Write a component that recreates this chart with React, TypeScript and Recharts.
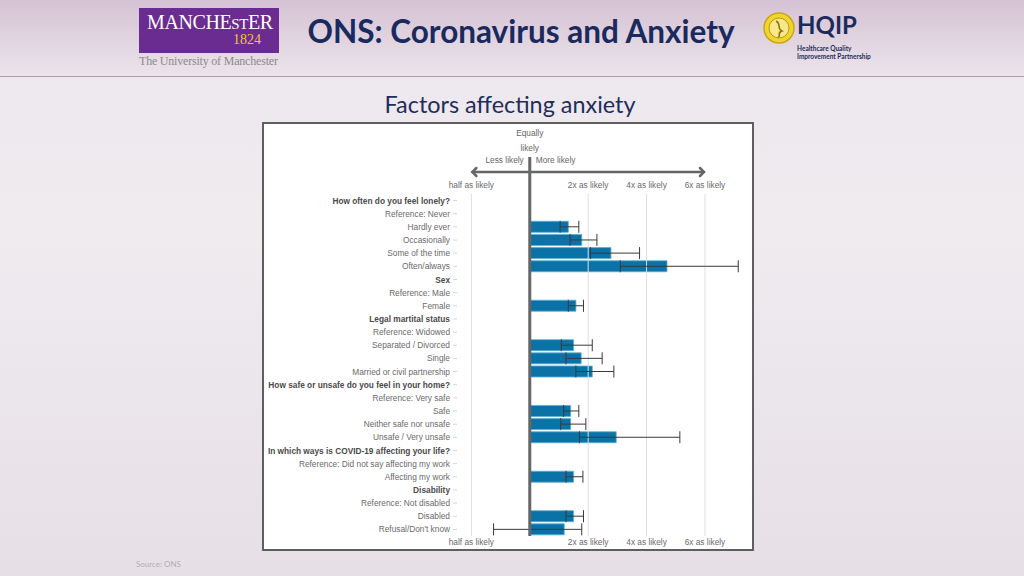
import React from 'react';
import {
  BarChart,
  Bar,
  XAxis,
  YAxis,
  ErrorBar,
  ReferenceLine,
  ReferenceArea,
} from 'recharts';

// rows of the chart, top to bottom
const labels = [
  'How often do you feel lonely?',
  'Reference: Never',
  'Hardly ever',
  'Occasionally',
  'Some of the time',
  'Often/always',
  'Sex',
  'Reference: Male',
  'Female',
  'Legal martital status',
  'Reference: Widowed',
  'Separated / Divorced',
  'Single',
  'Married or civil partnership',
  'How safe or unsafe do you feel in your home?',
  'Reference: Very safe',
  'Safe',
  'Neither safe nor unsafe',
  'Unsafe / Very unsafe',
  'In which ways is COVID-19 affecting your life?',
  'Reference: Did not say affecting my work',
  'Affecting my work',
  'Disability',
  'Reference: Not disabled',
  'Disabled',
  "Refusal/Don't know",
];

const headings = [
  'How often do you feel lonely?',
  'Sex',
  'Legal martital status',
  'How safe or unsafe do you feel in your home?',
  'In which ways is COVID-19 affecting your life?',
  'Disability',
];

// position on the likelihood axis: 0 = equally likely, -1 = half, 1 = 2x, 2 = 4x, 3 = 6x
const estimate = [
  null, null, 0.66, 0.89, 1.39, 2.35,
  null, null, 0.79,
  null, null, 0.75, 0.88, 1.07,
  null, null, 0.7, 0.7, 1.48,
  null, null, 0.75,
  null, null, 0.75, 0.59,
];
const lower = [
  null, null, 0.52, 0.69, 1.04, 1.55,
  null, null, 0.66,
  null, null, 0.54, 0.62, 0.79,
  null, null, 0.58, 0.53, 0.85,
  null, null, 0.62,
  null, null, 0.62, -0.62,
];
const upper = [
  null, null, 0.84, 1.15, 1.88, 3.57,
  null, null, 0.92,
  null, null, 1.07, 1.24, 1.44,
  null, null, 0.84, 0.96, 2.57,
  null, null, 0.91,
  null, null, 0.92, 0.89,
];

const xTicks = [-1, 0, 1, 2, 3];
const xTickLabels = ['half as likely', '', '2x as likely', '4x as likely', '6x as likely'];

const data = labels.map((label, i) => {
  const v = estimate[i];
  const lo = lower[i];
  const hi = upper[i];
  return {
    label,
    value: v,
    err: v == null || lo == null || hi == null ? null : [v - lo, hi - v],
  };
});

const chartFont = '"Liberation Sans", Arial, sans-serif';
const slideFont = 'Lato, "Open Sans", sans-serif';
const fs = 8.3;

const fmtX = (v: number) => xTickLabels[xTicks.indexOf(v)] ?? '';

const YTick = (props: any) => {
  const { x, y, payload } = props;
  const bold = headings.includes(payload.value);
  return (
    <text
      x={x}
      y={y}
      dy={3}
      textAnchor="end"
      fontSize={fs}
      fontFamily={chartFont}
      fontWeight={bold ? 700 : 400}
      fill={bold ? '#4a4a4a' : '#6a6a6a'}
    >
      {payload.value}
    </text>
  );
};

const EqualLabel = (props: any) => {
  const { x, y } = props.viewBox;
  return (
    <g fontFamily={chartFont} fontSize={fs} fill="#666">
      <line x1={x} x2={x} y1={y - 37} y2={y} stroke="#666" strokeWidth={3} />
      <text x={x} y={y - 58} textAnchor="middle">Equally</text>
      <text x={x} y={y - 43} textAnchor="middle">likely</text>
      <text x={x - 6} y={y - 31} textAnchor="end">Less likely</text>
      <text x={x + 6} y={y - 31} textAnchor="start">More likely</text>
    </g>
  );
};

const ArrowLabel = (props: any) => {
  const { x, y, width } = props.viewBox;
  const ay = y - 22;
  return (
    <g stroke="#666" strokeWidth={2.5} fill="none" strokeLinecap="round">
      <line x1={x + 1} x2={x + width - 1} y1={ay} y2={ay} />
      <polyline points={`${x + 5},${ay - 4} ${x + 1},${ay} ${x + 5},${ay + 4}`} />
      <polyline points={`${x + width - 5},${ay - 4} ${x + width - 1},${ay} ${x + width - 5},${ay + 4}`} />
    </g>
  );
};

const ManchesterLogo = () => (
  <div style={{ position: 'absolute', left: 139, top: 8 }}>
    <div
      style={{
        width: 140,
        height: 45,
        background: '#6b2c91',
        fontFamily: '"Liberation Serif", serif',
        color: '#fff',
        position: 'relative',
      }}
    >
      <div style={{ position: 'absolute', left: 8, top: 3, fontSize: 20, letterSpacing: -0.4, whiteSpace: 'nowrap' }}>
        MANCH<span>E</span>
        <span style={{ fontSize: 15 }}>ST</span>ER
      </div>
      <div style={{ position: 'absolute', left: 94, top: 24, fontSize: 14, color: '#f3c33c' }}>1824</div>
    </div>
    <div
      style={{
        fontFamily: '"Liberation Serif", serif',
        fontSize: 12,
        color: '#8e8a8e',
        marginTop: 1,
        letterSpacing: -0.2,
        whiteSpace: 'nowrap',
      }}
    >
      The University of Manchester
    </div>
  </div>
);

const HqipLogo = () => (
  <div style={{ position: 'absolute', left: 763, top: 12 }}>
    <svg width={34} height={34} style={{ position: 'absolute', left: 0, top: 0 }}>
      <circle cx={16} cy={16} r={15} fill="#f1d430" stroke="#c9a818" strokeWidth={1.5} />
      <circle cx={16} cy={16} r={10} fill="#f7e88a" stroke="#b89a14" strokeWidth={1} />
      <path d="M13 9 C 19 12, 13 16, 19 19 C 13 21, 19 24, 15 25" stroke="#8a7310" strokeWidth={1.5} fill="none" />
    </svg>
    <div
      style={{
        position: 'absolute',
        left: 34,
        top: -2,
        fontFamily: slideFont,
        fontSize: 24,
        fontWeight: 700,
        color: '#1c2a5c',
      }}
    >
      HQIP
    </div>
    <div
      style={{
        position: 'absolute',
        left: 34,
        top: 33,
        fontFamily: slideFont,
        fontSize: 6.5,
        fontWeight: 700,
        color: '#1c2a5c',
        lineHeight: '8px',
        whiteSpace: 'nowrap',
      }}
    >
      Healthcare Quality
      <br />
      Improvement Partnership
    </div>
  </div>
);

export default function App() {
  return (
    <div
      style={{
        position: 'absolute',
        left: 0,
        top: 0,
        width: 1024,
        height: 576,
        overflow: 'hidden',
        background: 'linear-gradient(180deg, #ece7ec 0%, #efebef 40%, #e6e0e6 100%)',
      }}
    >
      <div
        style={{
          position: 'absolute',
          left: 0,
          top: 0,
          width: 1024,
          height: 76,
          background: 'linear-gradient(180deg, #d6c2d5 0%, #e0d3df 50%, #ebe4eb 100%)',
          borderBottom: '1px solid #a9a1a9',
        }}
      />
      <ManchesterLogo />
      <div
        style={{
          position: 'absolute',
          left: 271,
          width: 500,
          top: 12,
          textAlign: 'center',
          fontFamily: slideFont,
          fontSize: 31.5,
          fontWeight: 700,
          color: '#1b2a5e',
          whiteSpace: 'nowrap',
        }}
      >
        ONS: Coronavirus and Anxiety
      </div>
      <HqipLogo />
      <div
        style={{
          position: 'absolute',
          left: 310,
          width: 400,
          top: 90,
          textAlign: 'center',
          fontFamily: slideFont,
          fontSize: 23.4,
          color: '#1f2d5c',
        }}
      >
        Factors affecting anxiety
      </div>
      <div
        style={{
          position: 'absolute',
          left: 262,
          top: 122,
          width: 492,
          height: 429,
          boxSizing: 'border-box',
          background: '#fff',
          border: '2px solid #5f5f5f',
        }}
      />
      <div style={{ position: 'absolute', left: 262, top: 122 }}>
        <BarChart
          width={492}
          height={428}
          data={data}
          layout="vertical"
          margin={{ top: 52, right: 14, bottom: 0, left: 0 }}
          barSize={11}
        >
          <XAxis
            type="number"
            domain={[-1.246, 3.6]}
            ticks={xTicks}
            tickFormatter={fmtX}
            orientation="bottom"
            axisLine={false}
            tickLine={false}
            tickSize={0}
            tickMargin={3}
            height={14}
            tick={{ fontSize: fs, fill: '#6a6a6a', fontFamily: chartFont }}
            allowDataOverflow
          />
          <XAxis
            xAxisId="top"
            type="number"
            domain={[-1.246, 3.6]}
            ticks={xTicks}
            tickFormatter={fmtX}
            orientation="top"
            axisLine={false}
            tickLine={false}
            tickSize={0}
            tickMargin={6}
            height={20}
            tick={{ fontSize: fs, fill: '#6a6a6a', fontFamily: chartFont }}
            allowDataOverflow
          />
          <YAxis
            type="category"
            dataKey="label"
            width={195}
            interval={0}
            axisLine={false}
            tickSize={4}
            tickMargin={3}
            tickLine={{ stroke: '#d6d6d6' }}
            tick={<YTick />}
          />
          {xTicks
            .filter((t) => t !== 0)
            .map((t) => (
              <ReferenceLine key={t} x={t} stroke="#dedede" strokeWidth={1} />
            ))}
          <ReferenceArea
            x1={-1}
            x2={3}
            fill="none"
            fillOpacity={0}
            stroke="none"
            label={(p: any) => <ArrowLabel {...p} />}
          />
          <Bar dataKey="value" fill="#0a72a7" stroke="#5aaed6" strokeWidth={0.8} isAnimationActive={false}>
            <ErrorBar dataKey="err" direction="x" width={6} stroke="#3a3a3a" strokeWidth={1} />
          </Bar>
          <ReferenceLine x={0} stroke="#666" strokeWidth={3} label={(p: any) => <EqualLabel {...p} />} />
        </BarChart>
      </div>
      <div
        style={{
          position: 'absolute',
          left: 136,
          top: 559,
          fontFamily: slideFont,
          fontSize: 8,
          color: '#b3adb3',
        }}
      >
        Source: ONS
      </div>
    </div>
  );
}
